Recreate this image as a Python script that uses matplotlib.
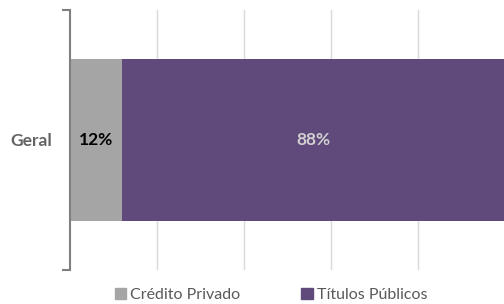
import matplotlib.pyplot as plt
from matplotlib.patches import Patch

# Dados
categorias = ['Geral']
credito_privado = [0.12]
titulos_publicos = [0.88]
series = ['Crédito Privado', 'Títulos Públicos']
cores = ['#a5a5a5', '#604a7b']

plt.rcParams['font.family'] = ['Lato', 'DejaVu Sans']

fig = plt.figure(figsize=(5.04, 3.04), dpi=100)
ax = fig.add_axes([0.139, 0.112, 0.863, 0.855])

y = range(len(categorias))
ax.barh(y, credito_privado, height=0.62, color=cores[0], zorder=2)
ax.barh(y, titulos_publicos, left=credito_privado, height=0.62, color=cores[1], zorder=2)

for i in y:
    ax.text(credito_privado[i] / 2, i, f'{credito_privado[i]:.0%}', ha='center', va='center',
            fontsize=12.5, fontweight='bold', color='black', zorder=3)
    ax.text(credito_privado[i] + titulos_publicos[i] / 2, i, f'{titulos_publicos[i]:.0%}',
            ha='center', va='center', fontsize=12.5, fontweight='bold', color='#d0d0d0', zorder=3)

ax.set_xlim(0, 1)
ax.set_ylim(-0.5, 0.5)
ax.set_xticks([0.2, 0.4, 0.6, 0.8])
ax.xaxis.grid(True, color='#d9d9d9', linewidth=1)
ax.tick_params(axis='x', length=0, labelbottom=False)

# eixo y em forma de colchete
ax.set_yticks([-0.5, 0.5])
ax.set_yticklabels([])
ax.tick_params(axis='y', length=6, width=1.5, color='#7f7f7f', direction='out')
ax.set_yticks(list(y), minor=True)
ax.set_yticklabels(categorias, minor=True, fontsize=12.5, fontweight='bold', color='#636363')
ax.tick_params(axis='y', which='minor', length=0, pad=13)

for s in ['top', 'right', 'bottom']:
    ax.spines[s].set_visible(False)
ax.spines['left'].set_color('#7f7f7f')
ax.spines['left'].set_linewidth(1.5)

handles = [Patch(color=c) for c in cores]
fig.legend(handles, series, loc='center', bbox_to_anchor=(0.538, 0.03), ncol=2,
           frameon=False, fontsize=11.5, labelcolor='#595959', handlelength=0.75,
           handleheight=0.75, handletextpad=0.25, columnspacing=3.8,
           borderpad=0, borderaxespad=0)

fig.savefig('out.png', dpi=100)
